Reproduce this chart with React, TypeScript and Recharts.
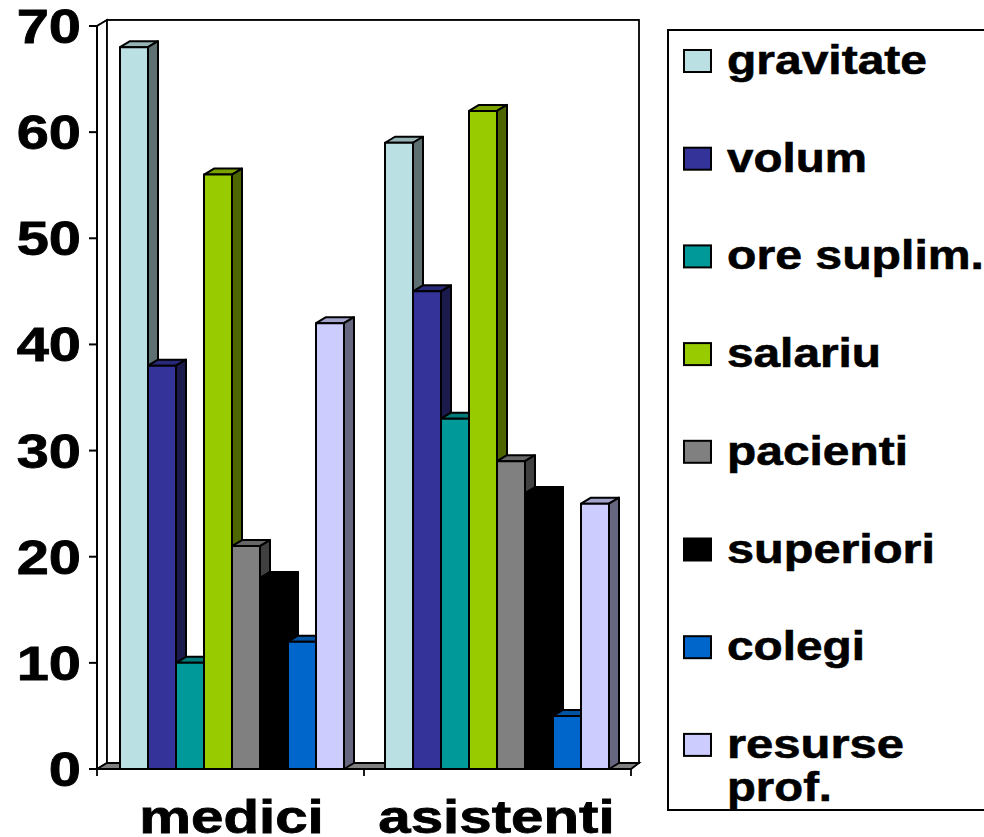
import React from 'react';
import { BarChart, Bar, XAxis, YAxis, CartesianGrid, Legend, usePlotArea } from 'recharts';

const categories = ['medici', 'asistenti'];
const seriesNames = ['gravitate', 'volum', 'ore suplim.', 'salariu', 'pacienti', 'superiori', 'colegi', 'resurse prof.'];
const seriesColors = ['#BBE0E3', '#333399', '#009999', '#99CC00', '#808080', '#000000', '#0066CC', '#CCCCFF'];
const mediciValues = [68, 38, 10, 56, 21, 18, 12, 42];
const asistentiValues = [59, 45, 33, 62, 29, 26, 5, 25];
const yTicks = [0, 10, 20, 30, 40, 50, 60, 70];
const legendLines = [['gravitate'], ['volum'], ['ore suplim.'], ['salariu'], ['pacienti'], ['superiori'], ['colegi'], ['resurse', 'prof.']];
const legendWidths: Record<string, number> = {
  gravitate: 200, volum: 140, 'ore suplim.': 257, salariu: 154, pacienti: 181, superiori: 208, colegi: 138, resurse: 177, 'prof.': 105,
};

const tableData = categories.map((name, i) => {
  const row: Record<string, string | number> = { name };
  const values = i === 0 ? mediciValues : asistentiValues;
  seriesNames.forEach((s, j) => { row[s] = values[j]; });
  return row;
});

const FONT = '"Liberation Sans", Arial, sans-serif';
const DX = 10; // depth of the fake 3d
const DY = 6;
const PAD = 2; // axes sit a little outside the band area

const shade = (hex: string, f: number) => {
  const n = parseInt(hex.slice(1), 16);
  const c = (v: number) => Math.round(v * f);
  return `rgb(${c((n >> 16) & 255)},${c((n >> 8) & 255)},${c(n & 255)})`;
};

const Bar3D = (props: any) => {
  const { x, y, width, height, fill } = props;
  return (
    <g stroke="#000" strokeWidth={2} strokeLinejoin="round">
      <polygon points={`${x},${y} ${x + DX},${y - DY} ${x + width + DX},${y - DY} ${x + width},${y}`} fill={shade(fill, 0.8)} />
      <polygon points={`${x + width},${y} ${x + width + DX},${y - DY} ${x + width + DX},${y + height - DY} ${x + width},${y + height}`} fill={shade(fill, 0.5)} />
      <rect x={x} y={y} width={width} height={height} fill={fill} />
    </g>
  );
};

const Walls = () => {
  const plot = usePlotArea();
  if (!plot) return null;
  const left = plot.x - PAD;
  const right = plot.x + plot.width + PAD;
  const top = plot.y;
  const bottom = plot.y + plot.height;
  const step = (right - left) / categories.length;
  return (
    <g stroke="#000" strokeWidth={1.8}>
      <polygon points={`${left},${top} ${left + DX},${top - DY} ${left + DX},${bottom - DY} ${left},${bottom}`} fill="#fff" />
      <rect x={left + DX} y={top - DY} width={right + 8 - left - DX} height={bottom - top} fill="#fff" />
      <polygon points={`${left},${bottom} ${left + DX},${bottom - DY} ${right + 8},${bottom - DY} ${right},${bottom}`} fill="#808080" />
      <line x1={left} x2={right} y1={bottom} y2={bottom} strokeWidth={2} />
      <line x1={left} x2={left} y1={top} y2={bottom} strokeWidth={2} />
      {[0, 1, 2].map((i) => (
        <line key={i} x1={left + i * step} x2={left + i * step} y1={bottom} y2={bottom + 7} />
      ))}
    </g>
  );
};

const gridLine = (p: any) => (
  <g key={p.key ?? p.y1} stroke="#000" strokeWidth={1.6}>
    <line x1={p.x1 - PAD} y1={p.y1} x2={p.x1 - PAD + DX} y2={p.y1 - DY} />
    <line x1={p.x1 - PAD + DX} y1={p.y1 - DY} x2={p.x2 + PAD + 8} y2={p.y1 - DY} />
  </g>
);

const YTick = ({ x, y, payload }: any) => (
  <g>
    <line x1={x + 8} x2={x + 16} y1={y} y2={y} stroke="#000" strokeWidth={2} />
    <text transform={`translate(${x},${y + 17}) scale(1.18,1)`} textAnchor="end" fontFamily={FONT} fontWeight="bold" fontSize={49} fill="#000" stroke="#000" strokeWidth={0.8}>
      {payload.value}
    </text>
  </g>
);

const XTick = ({ x, y, payload }: any) => (
  <text transform={`translate(${x},${y + 56}) scale(1.24,1)`} textAnchor="middle" fontFamily={FONT} fontWeight="bold" fontSize={47} fill="#000" stroke="#000" strokeWidth={0.8}>
    {payload.value}
  </text>
);

const LegendBox = ({ payload }: any) => (
  <svg width={984} height={837} style={{ display: 'block' }}>
    <rect x={668} y={30} width={330} height={780} fill="#fff" stroke="#000" strokeWidth={2} />
    {(payload ?? []).map((entry: any, i: number) => {
      const cy = 61 + i * 97.7;
      return (
        <g key={entry.value}>
          <rect x={684} y={cy - 11} width={27} height={22} fill={entry.color} stroke="#000" strokeWidth={2} />
          {legendLines[i].map((line, k) => (
            <text key={line} x={727} y={cy + 13 + k * 43} fontFamily={FONT} fontWeight="bold" fontSize={41} fill="#000" stroke="#000" strokeWidth={0.6}
              textLength={legendWidths[line]} lengthAdjust="spacingAndGlyphs">
              {line}
            </text>
          ))}
        </g>
      );
    })}
  </svg>
);

export default function App() {
  return (
    <div style={{ position: 'absolute', left: 0, top: 0, width: 984, height: 837, overflow: 'hidden', background: '#fff' }}>
      <BarChart
        width={984}
        height={837}
        data={tableData}
        margin={{ top: 26, right: 355, bottom: 0, left: 0 }}
        barCategoryGap={21}
        barGap={0}
      >
        <Walls />
        <CartesianGrid vertical={false} horizontal={gridLine} />
        <XAxis dataKey="name" height={68} tickLine={false} tickSize={6} tickMargin={2} tick={<XTick />} axisLine={false} interval={0} />
        <YAxis width={99} domain={[0, 70]} ticks={yTicks} tickSize={8} tickMargin={10} tick={<YTick />} tickLine={false} axisLine={false} interval={0} />
        <Legend layout="vertical" align="center" verticalAlign="middle" itemSorter={null} content={<LegendBox />} wrapperStyle={{ left: 0, top: 0, width: 984, height: 837, margin: 0 }} />
        {seriesNames.map((s, i) => (
          <Bar key={s} dataKey={s} name={s} fill={seriesColors[i]} shape={<Bar3D />} isAnimationActive={false} />
        ))}
      </BarChart>
    </div>
  );
}
